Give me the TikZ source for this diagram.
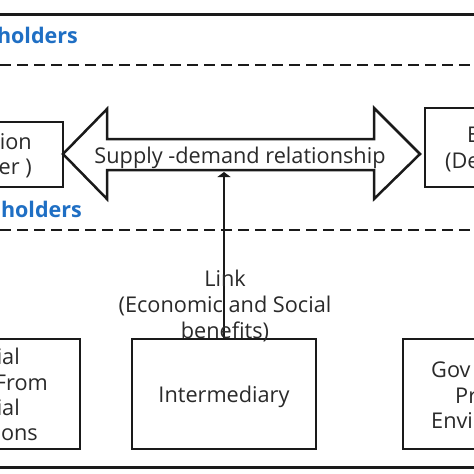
\documentclass[tikz,border=0pt]{standalone}
\usepackage{fontspec}
\setmainfont{Open Sans}
\usetikzlibrary{arrows.meta}
\definecolor{ink}{HTML}{1A1A1A}
\definecolor{txtc}{HTML}{2A2A2A}
\definecolor{blu}{HTML}{1F6FC4}
\begin{document}
\begin{tikzpicture}[x=1pt,y=-1pt,
  box/.style={draw=ink, line width=2.5pt, inner sep=0pt},
  txt/.style={text=txtc, font=\fontsize{21.7}{26}\selectfont, inner sep=0pt},
  lbl/.style={text=blu, font=\bfseries\fontsize{21.5}{24}\selectfont, inner sep=0pt},
  sepline/.style={draw=ink, line width=2.5pt, dash pattern=on 11pt off 6pt},
  frameline/.style={draw=ink, line width=3pt}]
\useasboundingbox (0,0) rectangle (474,474);
\fill[white] (0,0) rectangle (474,474);
\clip (0,0) rectangle (474,474);

% frame and separators
\draw[frameline] (0,14) -- (474,14);
\draw[frameline] (0,467) -- (474,467);
\draw[sepline] (0,65) -- (474,65);
\draw[sepline] (0,230) -- (474,230);

% blue labels
\node[lbl, anchor=base east] (up) at (78,43) {holders};
\node[lbl, anchor=base east] (low) at (82,217) {holders};

% boxes
\node[box, minimum width=163pt, minimum height=65pt] (lb) at (-18.5,154.5) {};
\node[box, minimum width=155pt, minimum height=79pt] (rb) at (502.5,147.5) {};
\node[box, minimum width=190pt, minimum height=110pt] (bl) at (-15,394) {};
\node[box, txt, text depth=0pt, minimum width=184pt, minimum height=110pt] (mid) at (224,394) {Intermediary};
\node[box, minimum width=197pt, minimum height=110pt] (br) at (501.5,394) {};

% texts in cut boxes
\node[txt, anchor=base east] (lt1) at (32,149) {ion};
\node[txt, anchor=base east] (lt2) at (32,174) {er )};
\node[txt, anchor=base west] (rt1) at (467,142) {E};
\node[txt, anchor=base west] (rt2) at (445,168) {(De};
\node[txt, anchor=base east] (bt1) at (20,364) {ial};
\node[txt, anchor=base east] (bt2) at (48,390) {From};
\node[txt, anchor=base east] (bt3) at (20,415) {ial};
\node[txt, anchor=base east] (bt4) at (38,440) {ons};
\node[txt, anchor=base west] (gt1) at (431,377) {Gov};
\node[txt, anchor=base west] (gt2) at (455,403) {Pr};
\node[txt, anchor=base west] (gt3) at (431,428) {Envi};

% double block arrow
\draw[ink, line width=2.5pt, line join=miter, fill=white]
  (63,154) -- (107,109) -- (107,139) -- (374,139) -- (374,108) -- (420,154)
  -- (374,199) -- (374,170) -- (107,170) -- (107,199) -- cycle;
\node[txt, anchor=base] (sd) at (240,163) {Supply -demand relationship};

% vertical link arrow
\coordinate (shaft) at (224,172);
\draw[ink, line width=2.5pt, -{Triangle[width=13pt,length=5pt]}] (mid.north) -- (shaft);
\node[txt, align=center] (link) at (225,305.5) {Link\\(Economic and Social\\benefits)};
\end{tikzpicture}
\end{document}
